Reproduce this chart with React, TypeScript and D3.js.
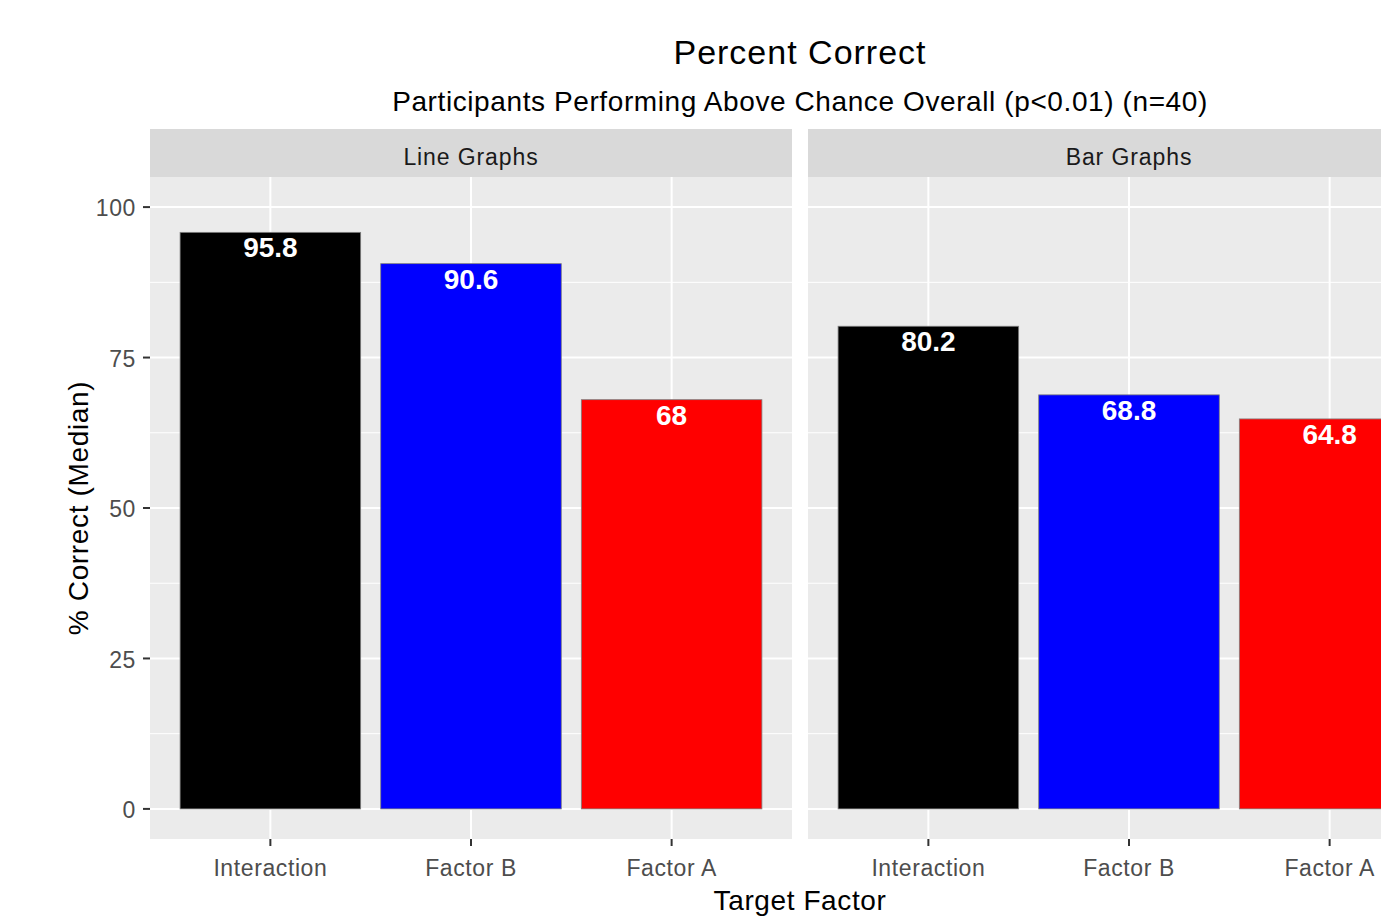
import * as d3 from 'd3';

const WIDTH = 1381;
const HEIGHT = 921;
const PANEL = { left: 150, width: 642, gap: 16, stripTop: 129, top: 177, bottom: 839 };
const FONT = '"Liberation Sans", Arial, sans-serif';

const facets = ['Line Graphs', 'Bar Graphs'];
const categories = ['Interaction', 'Factor B', 'Factor A'];
const lineGraphValues = [95.8, 90.6, 68];
const barGraphValues = [80.2, 68.8, 64.8];
const barColors = ['#000000', '#0000FF', '#FF0000'];
const yTicks = [0, 25, 50, 75, 100];
const yMinorTicks = [12.5, 37.5, 62.5, 87.5];

const facetValues = [lineGraphValues, barGraphValues];

const yScale = d3.scaleLinear().domain([-5, 105]).range([PANEL.bottom, PANEL.top]);

const Panel = ({ index, name, values }: { index: number; name: string; values: number[] }) => {
    const x0 = PANEL.left + index * (PANEL.width + PANEL.gap);
    const xScale = d3.scaleBand<string>()
        .domain(categories)
        .range([x0, x0 + PANEL.width])
        .paddingInner(0.1)
        .paddingOuter(0.15);
    const center = (c: string) => xScale(c)! + xScale.bandwidth() / 2;

    return (
        <g>
            {/* strip */}
            <rect x={x0} y={PANEL.stripTop} width={PANEL.width} height={PANEL.top - PANEL.stripTop} fill="#D9D9D9" />
            <text x={x0 + PANEL.width / 2} y={165} textAnchor="middle" fontSize={23} letterSpacing={0.9}
                fill="#1A1A1A">{name}</text>

            {/* panel + grid */}
            <rect x={x0} y={PANEL.top} width={PANEL.width} height={PANEL.bottom - PANEL.top} fill="#EBEBEB" />
            {yMinorTicks.map((t) => (
                <line key={'mn' + t} x1={x0} x2={x0 + PANEL.width} y1={yScale(t)} y2={yScale(t)} stroke="#fff" strokeWidth={1} />
            ))}
            {yTicks.map((t) => (
                <line key={'mj' + t} x1={x0} x2={x0 + PANEL.width} y1={yScale(t)} y2={yScale(t)} stroke="#fff" strokeWidth={2} />
            ))}
            {categories.map((c) => (
                <line key={'v' + c} x1={center(c)} x2={center(c)} y1={PANEL.top} y2={PANEL.bottom} stroke="#fff" strokeWidth={2} />
            ))}

            {/* bars */}
            {values.map((v, i) => (
                <g key={categories[i]}>
                    <rect x={xScale(categories[i])} y={yScale(v)} width={xScale.bandwidth()}
                        height={yScale(0) - yScale(v)} fill={barColors[i]} stroke="#7F7F7F" strokeWidth={0.8} />
                    <text x={center(categories[i])} y={yScale(v) + 25} textAnchor="middle"
                        fontSize={28} fontWeight="bold" fill="#fff">{String(v)}</text>
                </g>
            ))}

            {/* x axis */}
            {categories.map((c) => (
                <g key={'xt' + c}>
                    <line x1={center(c)} x2={center(c)} y1={PANEL.bottom} y2={PANEL.bottom + 7} stroke="#333" strokeWidth={2} />
                    <text x={center(c)} y={876} textAnchor="middle" fontSize={23} letterSpacing={0.6}
                        fill="#4D4D4D">{c}</text>
                </g>
            ))}
        </g>
    );
};

export default function App() {
    return (
        <div style={{ position: 'absolute', left: 0, top: 0 }}>
            <svg width={WIDTH} height={HEIGHT} fontFamily={FONT} style={{ display: 'block', background: '#fff' }}>
                <text x={800} y={64} textAnchor="middle" fontSize={34} letterSpacing={1} fill="#000">Percent Correct</text>
                <text x={800} y={111} textAnchor="middle" fontSize={28} letterSpacing={0.6} fill="#000">
                    Participants Performing Above Chance Overall (p&lt;0.01) (n=40)
                </text>

                {facets.map((f, i) => (
                    <Panel key={f} index={i} name={f} values={facetValues[i]} />
                ))}

                {/* y axis */}
                {yTicks.map((t) => (
                    <g key={'yt' + t}>
                        <line x1={PANEL.left - 7} x2={PANEL.left} y1={yScale(t)} y2={yScale(t)} stroke="#333" strokeWidth={2} />
                        <text x={PANEL.left - 14} y={yScale(t)} dy="0.4em" textAnchor="end" fontSize={23} letterSpacing={0.6}
                            fill="#4D4D4D">{t}</text>
                    </g>
                ))}

                <text transform={`translate(88, ${(PANEL.top + PANEL.bottom) / 2}) rotate(-90)`} textAnchor="middle"
                    fontSize={28} letterSpacing={0.65} fill="#000">% Correct (Median)</text>
                <text x={800} y={910} textAnchor="middle" fontSize={28} letterSpacing={0.6} fill="#000">Target Factor</text>
            </svg>
        </div>
    );
}
